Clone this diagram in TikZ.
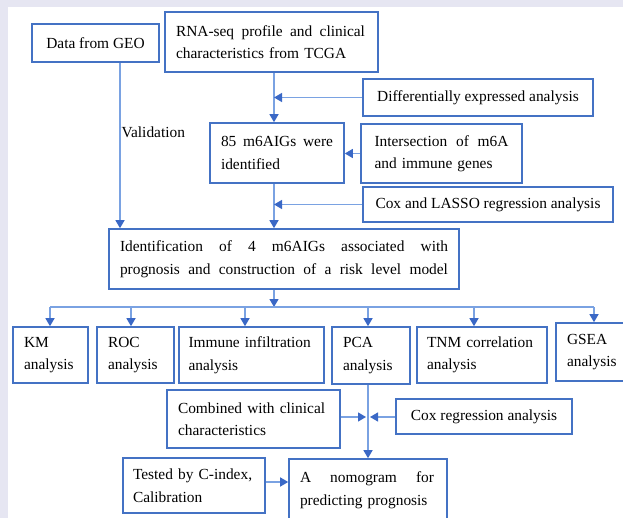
\documentclass[tikz,border=0pt]{standalone}
\usepackage{fontspec}
\setmainfont{Liberation Serif}
\usetikzlibrary{arrows.meta}
\definecolor{boxblue}{HTML}{4472C4}
\definecolor{lineblue}{HTML}{7AA2E2}
\definecolor{tipblue}{HTML}{3A68C6}
\definecolor{rim}{HTML}{E6E6F2}
\newcommand{\fl}[2]{\noindent\makebox[#1][s]{\spaceskip=.25em plus 1fil\relax #2}}
\begin{document}
\begin{tikzpicture}[x=1pt, y=-1pt,
    font=\fontsize{15.4}{22.5}\selectfont,
    box/.style={draw=boxblue, line width=1.6pt, inner xsep=0pt, inner ysep=0pt, align=left},
    link/.style={draw=lineblue, line width=1.3pt},
    arr/.style={link, -{Triangle[length=8pt, width=9pt, color=tipblue]}}]
    \useasboundingbox (0,0) rectangle (623,518);
    \fill[rim] (0,0) rectangle (623,518);
    \fill[white] (8,7.5) rectangle (623,518);

    \node[box, minimum width=127pt, minimum height=38pt] (geo) at (95.5,43) {Data from GEO};
    \node[box, minimum width=213pt, minimum height=60pt, text width=191pt] (rna) at (271.5,42) {\fl{189pt}{RNA-seq profile and clinical}\\characteristics from TCGA};
    \node[box, minimum width=230pt, minimum height=37pt] (diff) at (478,97.5) {Differentially expressed analysis};
    \node[box, minimum width=134pt, minimum height=60pt, text width=112pt] (m6a) at (277,153) {\fl{112pt}{85 m6AIGs were}\\identified};
    \node[box, minimum width=161pt, minimum height=59pt, text width=134pt] (inter) at (441.5,153.5) {\fl{134pt}{Intersection of m6A}\\and immune genes};
    \node[box, minimum width=250pt, minimum height=35pt] (lasso) at (488,204.5) {Cox and LASSO regression analysis};
    \node[box, minimum width=350pt, minimum height=60pt, text width=328pt] (ident) at (284,259) {\fl{328pt}{Identification of 4 m6AIGs associated with}\\\fl{328pt}{prognosis and construction of a risk level model}};

    \node[box, minimum width=75pt, minimum height=56pt, text width=53pt] (km) at (50.5,355) {KM\\analysis};
    \node[box, minimum width=77pt, minimum height=56pt, text width=55pt] (roc) at (135.5,355) {ROC\\analysis};
    \node[box, minimum width=145pt, minimum height=56pt, text width=126pt] (imm) at (251.5,355) {Immune infiltration\\analysis};
    \node[box, minimum width=78pt, minimum height=57pt, text width=56pt] (pca) at (371,355.5) {PCA\\analysis};
    \node[box, minimum width=130pt, minimum height=56pt, text width=110pt] (tnm) at (482,355) {TNM correlation\\analysis};
    \node[box, minimum width=76pt, minimum height=58pt, text width=54pt] (gsea) at (594,352) {GSEA\\analysis};

    \node[box, minimum width=173pt, minimum height=58pt, text width=151pt] (comb) at (253.5,419) {Combined with clinical\\characteristics};
    \node[box, minimum width=176pt, minimum height=35pt] (coxr) at (484,416.5) {Cox regression analysis};
    \node[box, minimum width=142pt, minimum height=55pt, text width=122pt] (tested) at (194,485.5) {Tested by C-index,\\Calibration};
    \node[box, minimum width=158pt, minimum height=62pt, text width=136pt] (nomo) at (368,490) {\fl{134pt}{A nomogram for}\\predicting prognosis};

    \coordinate (gx) at (120,0);
    \coordinate (mx) at (274,0);
    \coordinate (bus) at (0,307);
    \coordinate (jn) at (0,417);

    \draw[arr] (gx |- geo.south) -- (gx |- ident.north);
    \node[anchor=west, inner sep=0pt] (val) at (121.5,132) {Validation};
    \draw[arr] (mx |- rna.south) -- (mx |- m6a.north);
    \draw[arr] (diff.west) -- (mx |- diff.west);
    \draw[arr] (inter.west) -- (m6a.east |- inter.west);
    \draw[arr] (mx |- m6a.south) -- (mx |- ident.north);
    \draw[arr] (lasso.west) -- (mx |- lasso.west);

    \draw[arr] (mx |- ident.south) -- (mx |- bus);
    \foreach \n/\x in {km/50, roc/131, imm/245, pca/368, tnm/474, gsea/594} {
        \coordinate (b\n) at (\x,307);
        \draw[arr] (b\n) -- (b\n |- \n.north);
    }
    \draw[link] (bkm) -- (bgsea);

    \draw[arr] (nomo.north |- pca.south) -- (nomo.north);
    \draw[arr] (comb.east |- jn) -- ([xshift=-2pt]nomo.north |- jn);
    \draw[arr] (coxr.west |- jn) -- ([xshift=2pt]nomo.north |- jn);
    \draw[arr] ([yshift=3.5pt]tested.east) -- ([yshift=3.5pt]nomo.west |- tested.east);
\end{tikzpicture}
\end{document}
